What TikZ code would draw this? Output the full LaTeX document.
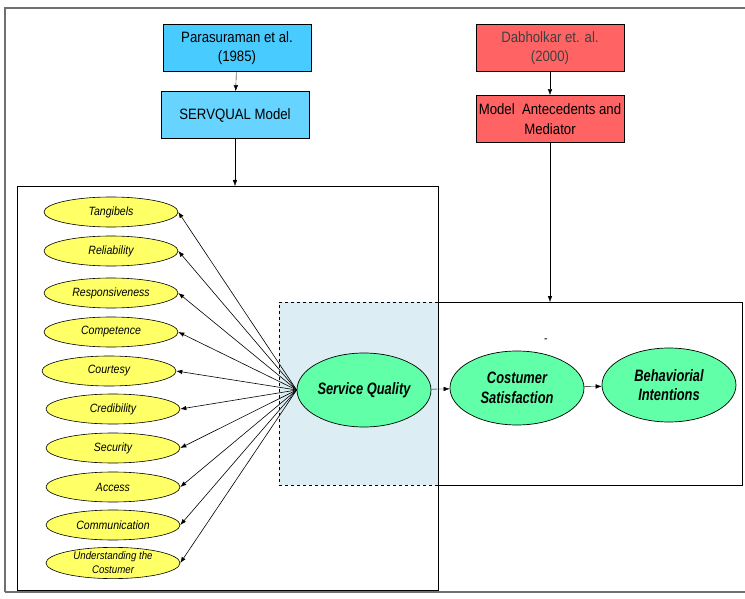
\documentclass[tikz,border=0pt]{standalone}
\usepackage{fontspec}
\setmainfont{Liberation Sans}[FakeStretch=0.88]
\newfontfamily\headfont{Liberation Sans}[FakeStretch=0.78]
\usetikzlibrary{arrows.meta,shapes.geometric}
\definecolor{cyanA}{HTML}{48CBFF}
\definecolor{cyanB}{HTML}{66D4FF}
\definecolor{redA}{HTML}{FF6363}
\definecolor{yell}{HTML}{FFFF66}
\definecolor{mint}{HTML}{60FFA8}
\definecolor{pale}{HTML}{DCEEF4}
\definecolor{frame}{HTML}{707070}
\begin{document}
\begin{tikzpicture}[x=1pt,y=-1pt,
  tip/.style={-{Latex[length=6pt,width=4.5pt]}},
  srcbox/.style={draw, line width=0.8pt, minimum width=148pt, minimum height=47pt,
    align=center, font=\fontsize{15}{19.5}\selectfont, inner sep=1pt},
  dim/.style={draw, ellipse, fill=yell, line width=0.6pt, minimum width=134pt,
    minimum height=30pt, inner sep=0pt, align=center,
    font=\fontsize{12}{13}\selectfont\itshape},
  construct/.style={draw, ellipse, fill=mint, line width=0.7pt, minimum width=134pt,
    minimum height=74pt, inner sep=0pt, align=center,
    font=\headfont\fontsize{16.5}{19.5}\selectfont\bfseries\itshape}]
\useasboundingbox (0,0) rectangle (745,599);
\draw[frame, line width=1.2pt] (5,592) -- (5,8) -- (750,8);
\draw[frame, line width=1.2pt] (5,592) -- (750,592);

% the two model frames
\node[draw, line width=0.8pt, minimum width=421pt, minimum height=404pt, anchor=north west,
  inner sep=0pt] (lbox) at (17,186) {};
\node[draw, line width=0.8pt, minimum width=304pt, minimum height=183pt, anchor=north west,
  inner sep=0pt] (rbox) at (438,302) {};
\node[draw, dashed, fill=pale, line width=0.7pt, minimum width=159pt, minimum height=183pt,
  anchor=north west, inner sep=0pt] (sqbox) at (279,302) {};

% sources
\node[srcbox, fill=cyanA] (para) at (237,48) {Parasuraman et al.\\(1985)};
\node[srcbox, fill=cyanB] (serv) at (235,115) {SERVQUAL Model};
\node[srcbox, fill=redA, text=black!75] (dab) at (550,48) {Dabholkar et. al.\\(2000)};
\node[srcbox, fill=redA] (med) at (550,119) {Model\ \ Antecedents and\\Mediator};

\draw[tip] (para) -- (serv);
\draw[tip] (dab) -- (med);
\draw[tip] (serv.south) -- (serv.south |- lbox.north);
\draw[tip] (med.south) -- (med.south |- rbox.north);

% constructs
\node[construct] (sq) at (364,390) {Service Quality};
\node[construct] (cs) at (517,388) {Costumer\\Satisfaction};
\node[construct] (bi) at (669,385) {Behaviorial\\Intentions};
\node[font=\fontsize{12}{12}\selectfont] (mark) at (546,341) {-};
\draw[tip] (sq) -- (cs);
\draw[tip] (cs) -- (bi);

% SERVQUAL dimensions
\node[dim] (d1) at (111,212) {Tangibels};
\node[dim] (d2) at (111,251) {Reliability};
\node[dim] (d3) at (111,293) {Responsiveness};
\node[dim] (d4) at (111,332) {Competence};
\node[dim] (d5) at (109,371) {Courtesy};
\node[dim] (d6) at (113,409) {Credibility};
\node[dim] (d7) at (113,448) {Security};
\node[dim] (d8) at (113,487) {Access};
\node[dim] (d9) at (113,525) {Communication};
\node[dim, font=\fontsize{11}{14}\selectfont\itshape] (d10) at (113,563) {Understanding the\\Costumer};
\foreach \d in {d1,d2,d3,d4,d5,d6,d7,d8,d9,d10}
  \draw[tip, line width=0.6pt] (sq.west) -- (\d.east);
\end{tikzpicture}
\end{document}
